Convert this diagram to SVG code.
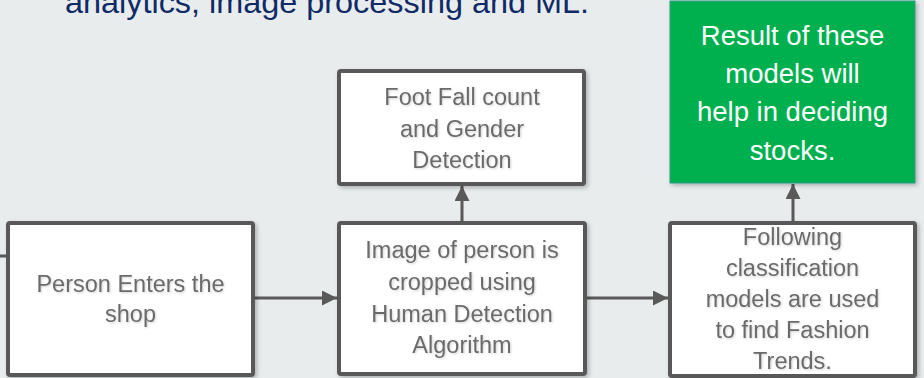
<svg xmlns="http://www.w3.org/2000/svg" width="924" height="378" viewBox="0 0 924 378">
  <defs>
    <filter id="sh" x="-10%" y="-10%" width="130%" height="130%">
      <feDropShadow dx="2" dy="2" stdDeviation="2" flood-color="#000" flood-opacity="0.25"/>
    </filter>
    <filter id="tsh" x="-5%" y="-20%" width="110%" height="150%">
      <feDropShadow dx="1" dy="1" stdDeviation="0.8" flood-color="#000" flood-opacity="0.18"/>
    </filter>
    <marker id="arr" viewBox="0 0 10 10" refX="10" refY="5" markerWidth="5" markerHeight="5" markerUnits="strokeWidth" orient="auto">
      <path d="M0,0 L10,5 L0,10 Z" fill="#595959"/>
    </marker>
    <style>
      .box { fill: #ffffff; stroke: #595959; stroke-width: 4; }
      .lbl { font-family: "Liberation Sans", Arial, sans-serif; font-size: 23.5px; fill: #6b6b6b; text-anchor: middle; }
      .glbl { font-family: "Liberation Sans", Arial, sans-serif; font-size: 27.5px; fill: #ffffff; text-anchor: middle; }
      .conn { stroke: #595959; stroke-width: 3; fill: none; }
    </style>
  </defs>
  <rect x="0" y="0" width="924" height="378" fill="#e8ecec"/>
  <text x="65" y="13" font-family="'Liberation Sans', Arial, sans-serif" font-size="32" fill="#0f2a66" textLength="524" lengthAdjust="spacingAndGlyphs">analytics, image processing and ML.</text>

  <g id="connectors">
    <line class="conn" x1="0" y1="256" x2="7" y2="256"/>
    <line class="conn" x1="254" y1="298" x2="337" y2="298" marker-end="url(#arr)"/>
    <line class="conn" x1="462" y1="222" x2="462" y2="186" marker-end="url(#arr)"/>
    <line class="conn" x1="586" y1="298" x2="668" y2="298" marker-end="url(#arr)"/>
    <line class="conn" x1="793" y1="222" x2="793" y2="184" marker-end="url(#arr)"/>
  </g>

  <g id="person">
    <rect class="box" x="8" y="223" width="245" height="152" rx="2" filter="url(#sh)"/>
    <g class="lbl" filter="url(#tsh)">
      <text x="130.5" y="292">Person Enters the</text>
      <text x="130.5" y="322">shop</text>
    </g>
  </g>

  <g id="crop">
    <rect class="box" x="339" y="223" width="246" height="151" rx="2" filter="url(#sh)"/>
    <g class="lbl" filter="url(#tsh)">
      <text x="462" y="258">Image of person is</text>
      <text x="462" y="290">cropped using</text>
      <text x="462" y="322">Human Detection</text>
      <text x="462" y="353">Algorithm</text>
    </g>
  </g>

  <g id="footfall">
    <rect class="box" x="339" y="71" width="245" height="113" rx="2" filter="url(#sh)"/>
    <g class="lbl" filter="url(#tsh)">
      <text x="462" y="105">Foot Fall count</text>
      <text x="462" y="137">and Gender</text>
      <text x="462" y="168">Detection</text>
    </g>
  </g>

  <g id="classify">
    <rect class="box" x="670" y="223" width="245" height="153" rx="2" filter="url(#sh)"/>
    <g class="lbl" filter="url(#tsh)">
      <text x="792.5" y="245">Following</text>
      <text x="792.5" y="276">classification</text>
      <text x="792.5" y="307">models are used</text>
      <text x="792.5" y="338">to find Fashion</text>
      <text x="792.5" y="369">Trends.</text>
    </g>
  </g>

  <g id="result">
    <rect x="670" y="1" width="245" height="182" fill="#00b050" stroke="#2a9a86" stroke-width="1" filter="url(#sh)"/>
    <g class="glbl">
      <text x="792.5" y="45">Result of these</text>
      <text x="792.5" y="83">models will</text>
      <text x="792.5" y="121">help in deciding</text>
      <text x="792.5" y="160">stocks.</text>
    </g>
  </g>
</svg>
